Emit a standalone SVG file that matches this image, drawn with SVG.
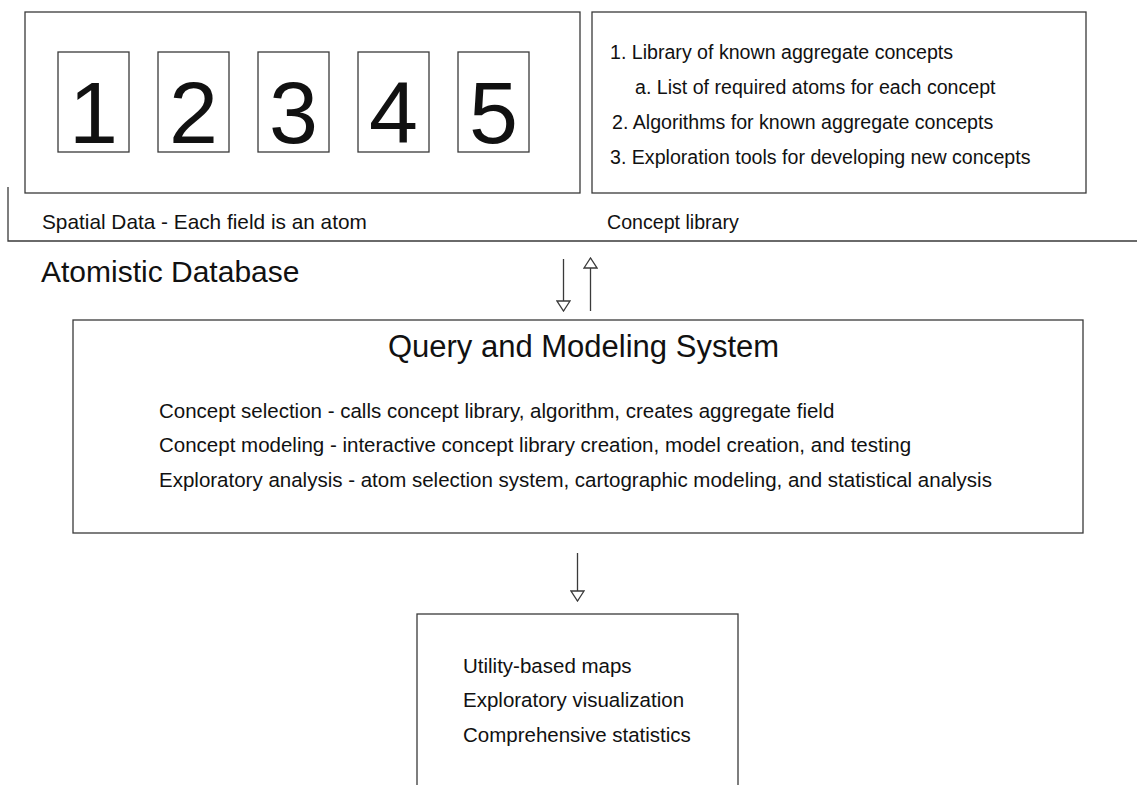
<svg xmlns="http://www.w3.org/2000/svg" width="1137" height="785" viewBox="0 0 1137 785">
<style>
.box{fill:none;stroke:#3a3a3a;stroke-width:1.3}
.ln{fill:none;stroke:#3a3a3a;stroke-width:1.3}
.t{font-family:"Liberation Sans",Arial,sans-serif;fill:#111}
.b{font-size:20.5px}
.num{font-size:88px;text-anchor:middle}
</style>
<defs>
<marker id="ah" viewBox="0 0 12 15" refX="11" refY="7.5" markerWidth="12" markerHeight="15" markerUnits="userSpaceOnUse" orient="auto">
<path d="M1,1 L11,7.5 L1,14 Z" fill="#fff" stroke="#3a3a3a" stroke-width="1.3"/>
</marker>
</defs>
<rect width="1137" height="785" fill="#fff"/>
<g id="atomistic-db">
<path class="ln" d="M8,187 V241 H1137"/>
<text class="t" x="41" y="282" font-size="30">Atomistic Database</text>
</g>
<g id="spatial-data">
<rect class="box" x="25" y="12" width="555" height="181"/>
<rect class="box" x="58" y="52" width="71" height="100"/>
<rect class="box" x="158" y="52" width="71" height="100"/>
<rect class="box" x="258" y="52" width="71" height="100"/>
<rect class="box" x="358" y="52" width="71" height="100"/>
<rect class="box" x="458" y="52" width="71" height="100"/>
<text class="t num" x="93.5" y="143">1</text>
<text class="t num" x="193.5" y="143">2</text>
<text class="t num" x="293.5" y="143">3</text>
<text class="t num" x="393.5" y="143">4</text>
<text class="t num" x="493.5" y="143">5</text>
<text class="t" x="42" y="229" font-size="20.8">Spatial Data - Each field is an atom</text>
</g>
<g id="concept-library">
<rect class="box" x="592" y="12" width="494" height="181"/>
<text class="t" x="610" y="59" font-size="19.6">1. Library of known aggregate concepts</text>
<text class="t" x="635" y="94" font-size="19.6">a. List of required atoms for each concept</text>
<text class="t" x="612" y="129" font-size="19.6">2. Algorithms for known aggregate concepts</text>
<text class="t" x="610" y="164" font-size="19.6">3. Exploration tools for developing new concepts</text>
<text class="t" x="607" y="229" font-size="19.6">Concept library</text>
</g>
<g id="query-modeling">
<rect class="box" x="73" y="320" width="1010" height="213"/>
<text class="t" x="583.5" y="357" font-size="31" text-anchor="middle">Query and Modeling System</text>
<text class="t b" x="159" y="418">Concept selection - calls concept library, algorithm, creates aggregate field</text>
<text class="t b" x="159" y="452">Concept modeling - interactive concept library creation, model creation, and testing</text>
<text class="t b" x="159" y="487">Exploratory analysis - atom selection system, cartographic modeling, and statistical analysis</text>
</g>
<g id="outputs">
<rect class="box" x="417" y="614" width="321" height="200"/>
<text class="t b" x="463" y="673">Utility-based maps</text>
<text class="t b" x="463" y="707">Exploratory visualization</text>
<text class="t b" x="463" y="742">Comprehensive statistics</text>
</g>
<g id="connectors">
<line class="ln" x1="563.5" y1="259" x2="563.5" y2="311" marker-end="url(#ah)"/>
<line class="ln" x1="590.5" y1="311" x2="590.5" y2="258" marker-end="url(#ah)"/>
<line class="ln" x1="577.5" y1="553" x2="577.5" y2="601" marker-end="url(#ah)"/>
</g>
</svg>
